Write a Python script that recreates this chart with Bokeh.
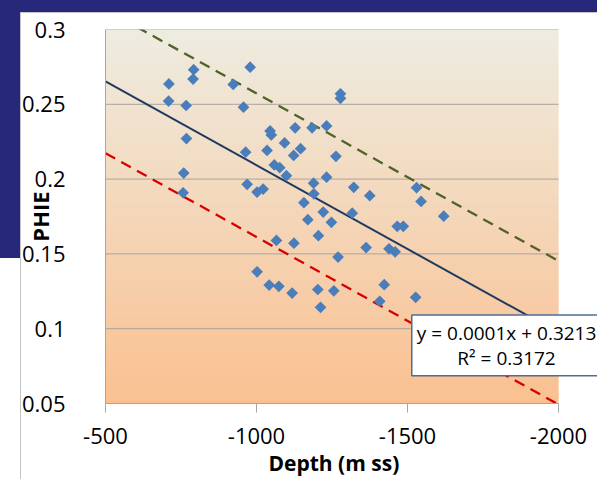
import numpy as np
from bokeh.plotting import figure
from bokeh.models import Range1d, FixedTicker, Label, Title
from bokeh.embed import file_html
from bokeh.resources import INLINE

# ---- data ----
depth = [-710, -709, -792, -790, -767, -768, -979, -923, -957, -759, -757,
         -1045, -1049, -1128, -1184, -1232, -1278, -1278, -1093, -1146, -1123,
         -964, -1035, -1263, -1059, -1077, -1099, -969, -1002, -1022, -1189,
         -1190, -1232, -1157, -1221, -1170, -1248, -1322, -1375, -1317, -1530,
         -1545, -1620, -1205, -1270, -1363, -1466, -1486, -1439, -1459, -1066,
         -1124, -1002, -1042, -1074, -1118, -1203, -1256, -1212, -1423, -1408,
         -1527]
phie = [0.2636, 0.2522, 0.2731, 0.2669, 0.2492, 0.2271, 0.2748, 0.2633, 0.2481,
        0.2040, 0.1908, 0.2322, 0.2295, 0.2343, 0.2343, 0.2355, 0.2570, 0.2540,
        0.2242, 0.2203, 0.2158, 0.2180, 0.2192, 0.2152, 0.2095, 0.2076, 0.2023,
        0.1965, 0.1913, 0.1933, 0.1973, 0.1902, 0.2013, 0.1842, 0.1780, 0.1729,
        0.1711, 0.1945, 0.1889, 0.1772, 0.1943, 0.1851, 0.1752, 0.1622, 0.1479,
        0.1542, 0.1684, 0.1684, 0.1534, 0.1514, 0.1590, 0.1572, 0.1380, 0.1292,
        0.1283, 0.1238, 0.1262, 0.1253, 0.1143, 0.1294, 0.1183, 0.1210]

x_ticks = [-500, -1000, -1500, -2000]
x_tick_labels = ["-500", "-1000", "-1500", "-2000"]
y_ticks = [0.05, 0.1, 0.15, 0.2, 0.25, 0.3]
y_tick_labels = ["0.05", "0.1", "0.15", "0.2", "0.25", "0.3"]
x_title = "Depth (m ss)"
y_title = "PHIE"

trend_slope = 0.000112
trend_intercept = 0.3213
band_offset = 0.048
equation_text = "y = 0.0001x + 0.3213\nR\u00b2 = 0.3172"
equation_pos = (-1828, 0.0889)

x_lo, x_hi = -500, -2000
y_lo, y_hi = 0.05, 0.3

# layout: 453 px for the axis span, plus 39 px of free frame on the right
# so that the equation box can overhang the plot area
AXIS_PX = 453
RIGHT_PX = 39
x_end = x_hi + (x_hi - x_lo) * RIGHT_PX / AXIS_PX

NAVY = "#27287A"
p = figure(width=597, height=479, output_backend="svg", toolbar_location=None,
           x_range=Range1d(x_lo, x_end), y_range=Range1d(y_lo, y_hi),
           min_border_left=105, min_border_right=0,
           min_border_top=29, min_border_bottom=76)
p.outline_line_color = None
p.border_fill_alpha = 0
p.background_fill_alpha = 0
p.styles = {"background":
            f"linear-gradient({NAVY},{NAVY}) 0 0/100% 12px no-repeat,"
            f"linear-gradient({NAVY},{NAVY}) 0 0/20px 258px no-repeat,"
            "linear-gradient(#C4C4C4,#C4C4C4) 20px 12px/1px 100% no-repeat,"
            "linear-gradient(#C4C4C4,#C4C4C4) 20px 12px/100% 1px no-repeat,"
            "#ffffff"}

# gradient plot-area background
top_rgb = np.array([0xEE, 0xEC, 0xE1])
bot_rgb = np.array([0xFA, 0xC0, 0x90])
n = 90
edges = np.linspace(y_lo, y_hi, n + 1)
mids = (edges[:-1] + edges[1:]) / 2
t = (mids - y_lo) / (y_hi - y_lo)
cols = ["#%02x%02x%02x" % tuple(np.round(bot_rgb + (top_rgb - bot_rgb) * tt).astype(int)) for tt in t]
step = edges[1] - edges[0]
tops = np.minimum(edges[1:] + step * 0.6, y_hi)
p.quad(left=x_lo, right=x_hi, bottom=edges[:-1], top=tops,
       fill_color=cols, line_color=None)

# horizontal gridlines limited to the axis span
p.xgrid.grid_line_color = None
p.ygrid.grid_line_color = None
p.segment(x0=[x_lo] * len(y_ticks), x1=[x_hi] * len(y_ticks), y0=y_ticks, y1=y_ticks,
          line_color="#A9A39C", line_width=1)

GRAY = "#A6A6A6"
p.xaxis.ticker = FixedTicker(ticks=x_ticks)
p.xaxis.major_label_overrides = dict(zip(x_ticks, x_tick_labels))
p.xaxis.bounds = (x_lo, x_hi)
p.yaxis.ticker = FixedTicker(ticks=y_ticks)
p.yaxis.major_label_overrides = dict(zip(y_ticks, y_tick_labels))

for ax in (p.xaxis[0], p.yaxis[0]):
    ax.axis_line_color = GRAY
    ax.major_tick_line_color = GRAY
    ax.major_tick_in = 0
    ax.minor_tick_in = 0
    ax.minor_tick_out = 0
    ax.major_label_text_font = "Open Sans"
    ax.major_label_text_font_size = "22px"
    ax.major_label_text_color = "#000000"
    ax.axis_label_text_font = "Open Sans"
    ax.axis_label_text_font_style = "bold"
    ax.axis_label_text_color = "#000000"

p.xaxis.major_tick_out = 9
p.xaxis.major_label_standoff = 15

# x title centred under the axis span (not under the wider frame)
xt = Title(text=x_title, align="left", offset=163, standoff=0,
           text_font="Open Sans", text_font_size="21px", text_font_style="bold",
           text_color="#000000")
p.add_layout(xt, "below")

p.yaxis.major_tick_out = 0
p.yaxis.major_label_standoff = 40
p.yaxis.axis_label = y_title
p.yaxis.axis_label_text_font_size = "22px"
p.yaxis.axis_label_standoff = -36

# trend line and band
xs = np.array([x_lo, x_hi], dtype=float)
trend = trend_intercept + trend_slope * xs
p.line(xs, trend + band_offset, line_color="#4F6228", line_width=2.3, line_dash="11 7")
p.line(xs, trend - band_offset, line_color="#D80000", line_width=2.3, line_dash="11 7")
p.line(xs, trend, line_color="#1F3A60", line_width=2)

# points
p.scatter(depth, phie, marker="square", angle=np.pi / 4, size=8.3,
          fill_color="#4A7EBB", line_color=None)

# equation label
lab = Label(x=equation_pos[0], y=equation_pos[1], text=equation_text,
            text_align="center", text_baseline="middle",
            text_font="Open Sans", text_font_size="19px", text_color="#000000",
            text_line_height=0.95,
            background_fill_color="#FFFFFF", border_line_color="#4F6D95",
            border_line_width=1.5, padding=5)
p.add_layout(lab)

open("out.html", "w").write(file_html(p, INLINE))
